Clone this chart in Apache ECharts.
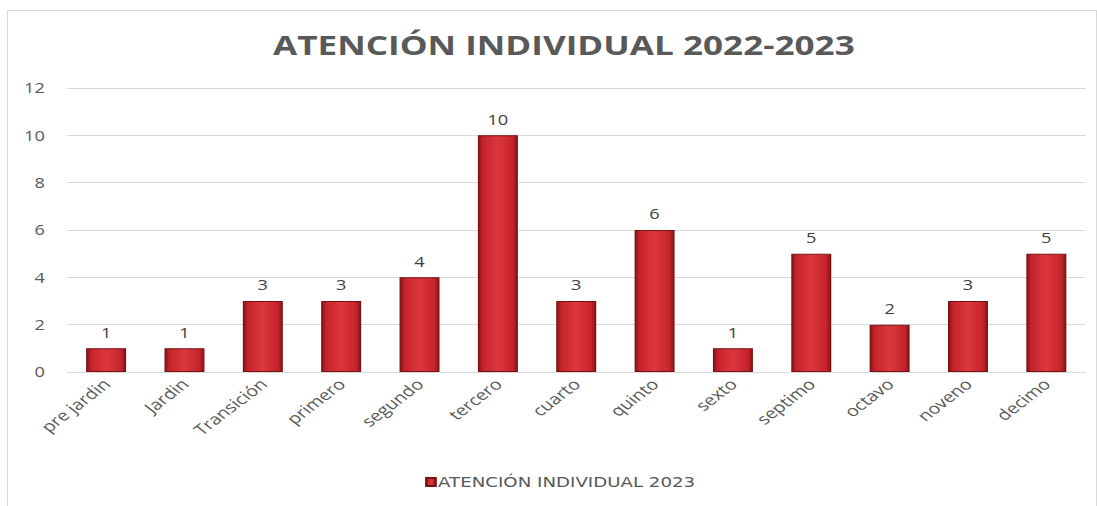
<!DOCTYPE html>
<html>
<head>
<meta charset="utf-8">
<script src="https://cdn.jsdelivr.net/npm/echarts@6/dist/echarts.min.js"></script>
<style>
  html, body { margin: 0; padding: 0; background: #fff; overflow: hidden; }
  #frame { position: absolute; left: 7px; top: 10px; width: 1090px; height: 500px; border: 1px solid #d9d9d9; box-sizing: border-box; }
  /* the reference picture is stretched sideways, so the chart is drawn narrow and widened */
  #chart { position: absolute; left: 0; top: 0; width: 844px; height: 506px; transform: scaleX(1.3); transform-origin: 0 0; }
</style>
</head>
<body>
<div id="frame"></div>
<div id="chart"></div>
<script>
// categories and values
let grados = ["pre jardin", "Jardin", "Transición", "primero", "segundo", "tercero", "cuarto", "quinto", "sexto", "septimo", "octavo", "noveno", "decimo"];
let atencion = [1, 1, 3, 3, 4, 10, 3, 6, 1, 5, 2, 3, 5];
let serieNombre = "ATENCIÓN INDIVIDUAL 2023";
let titulo = "ATENCIÓN INDIVIDUAL 2022-2023";

let font = "'Open Sans', 'Liberation Sans', sans-serif";

let barColor = new echarts.graphic.LinearGradient(0, 0, 1, 0, [
  { offset: 0, color: "#8e1519" },
  { offset: 0.12, color: "#c4252b" },
  { offset: 0.5, color: "#dd373d" },
  { offset: 0.88, color: "#c4252b" },
  { offset: 1, color: "#8e1519" },
]);

let option = {
  backgroundColor: "transparent",
  animation: false,
  title: {
    text: titulo,
    left: 205,
    top: 26,
    textStyle: { fontFamily: font, fontSize: 27, fontWeight: "bold", color: "#595959" },
  },
  grid: { left: 51.5, right: 9, top: 88, bottom: 134, containLabel: false },
  legend: {
    bottom: 12,
    left: 322,
    itemWidth: 7,
    itemHeight: 8,
    itemGap: 4,
    icon: "rect",
    textStyle: { fontFamily: "'DejaVu Sans', sans-serif", fontSize: 14, color: "#595959", padding: [0, 0, 0, -3] },
    data: [serieNombre],
  },
  xAxis: {
    type: "category",
    data: grados,
    axisLine: { lineStyle: { color: "#d9d9d9" } },
    axisTick: { show: false },
    axisLabel: { rotate: 45, margin: 9, fontFamily: font, fontSize: 15, color: "#595959", interval: 0 },
  },
  yAxis: {
    type: "value",
    min: 0,
    max: 12,
    interval: 2,
    axisLine: { show: false },
    axisTick: { show: false },
    axisLabel: { margin: 17, fontFamily: font, fontSize: 14, color: "#595959" },
    splitLine: { lineStyle: { color: "#d9d9d9" } },
  },
  series: [
    {
      name: serieNombre,
      type: "bar",
      barWidth: "51%",
      data: atencion,
      itemStyle: { color: barColor, borderColor: "#7a1013", borderWidth: 1 },
      label: {
        show: true,
        position: "top",
        distance: 9,
        fontFamily: font,
        fontSize: 14,
        color: "#404040",
      },
    },
  ],
};

let myChart = echarts.init(document.getElementById("chart"), null, { renderer: "svg" });
myChart.setOption(option, true);
window.onresize = myChart.resize;
</script>
</body>
</html>
